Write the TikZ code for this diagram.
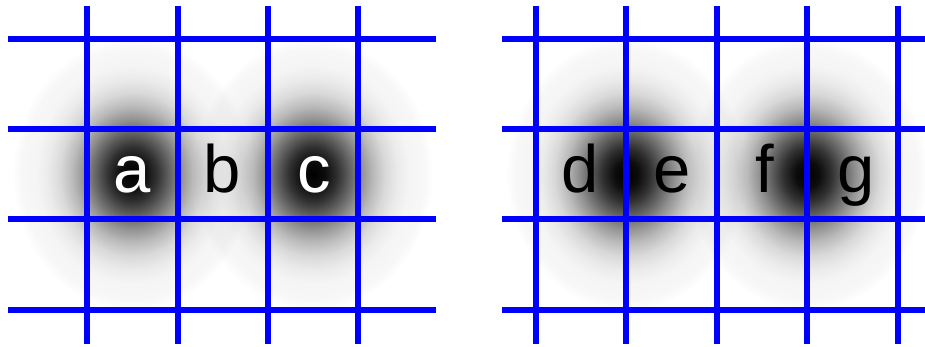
\documentclass[tikz,border=0pt]{standalone}
\usepackage{fontspec}
\setmainfont{Liberation Sans}
\usetikzlibrary{fadings}
\pgfdeclareradialshading{blobshade}{\pgfpoint{0bp}{0bp}}{%
  color(0bp)=(white); color(2.5bp)=(white!95!black);
  color(5bp)=(white!81!black); color(7.5bp)=(white!62!black);
  color(10bp)=(white!43!black); color(12.5bp)=(white!27!black);
  color(15bp)=(white!15!black); color(17.5bp)=(white!8!black);
  color(20bp)=(white!4!black); color(23bp)=(white!3!black);
  color(25bp)=(black); color(50bp)=(black)}
\pgfdeclarefading{blobfade}{\pgfuseshading{blobshade}}

\begin{document}
\begin{tikzpicture}[x=1pt,y=-1pt,
  gridline/.style={blue,line width=6pt},
  blob/.style={fill=black,path fading=blobfade,fit fading=true},
  lbl/.style={font=\fontsize{67}{67}\selectfont,anchor=base,inner sep=0pt}]
\useasboundingbox (0,0) rectangle (925,347);
% blobs
\foreach \bx in {132.5,313,626.3,807.3}
  \fill[blob] (\bx,174.3) ellipse[x radius=120pt,y radius=136pt];
% left grid
\foreach \gx in {87.3,177.7,268,358}
  \draw[gridline] (\gx,6) -- (\gx,344);
\foreach \gy in {39.3,129.3,219.3,310}
  \draw[gridline] (8,\gy) -- (435.7,\gy);
% right grid
\foreach \gx in {535.7,626.3,717,807.3,897.7}
  \draw[gridline] (\gx,6) -- (\gx,344);
\foreach \gy in {39.3,129.3,219.3,310}
  \draw[gridline] (502,\gy) -- (925,\gy);
% labels
\node[lbl,white] (a) at (132.5,192.5) {a};
\node[lbl] (b) at (222.5,192.5) {b};
\node[lbl,white] (c) at (314,192.5) {c};
\node[lbl] (d) at (580.5,192.5) {d};
\node[lbl] (e) at (672,192.5) {e};
\node[lbl] (f) at (765,192.5) {f};
\node[lbl] (g) at (856,192.5) {g};
\end{tikzpicture}
\end{document}
